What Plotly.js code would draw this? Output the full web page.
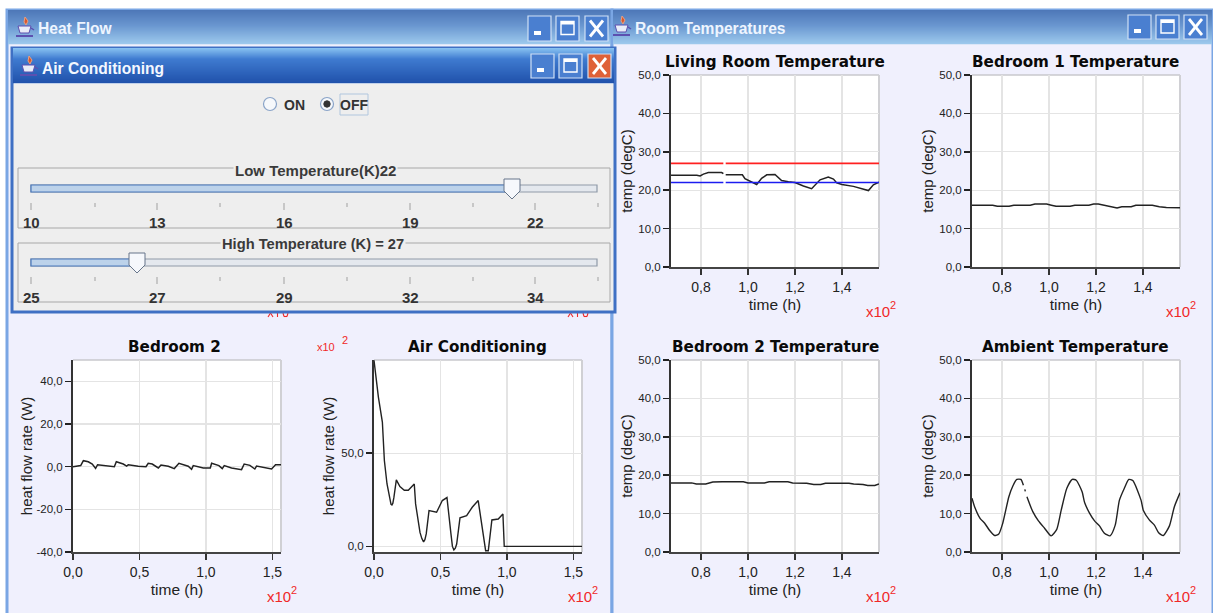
<!DOCTYPE html>
<html><head><meta charset="utf-8">
<script src="https://cdn.plot.ly/plotly-3.0.1.min.js"></script>
<style>html,body{margin:0;padding:0;background:#fff;overflow:hidden}#c{width:1213px;height:613px}</style>
</head><body><div id="c"></div>
<script>
// ---- data (x in units of 10^2 h) ----
const tempX = [0.8,1.0,1.2,1.4];
const tempXLabels = ['0,8','1,0','1,2','1,4'];
const tempY = [0,10,20,30,40,50];
const tempYLabels = ['0,0','10,0','20,0','30,0','40,0','50,0'];
const heatX = [0,0.5,1.0,1.5];
const heatXLabels = ['0,0','0,5','1,0','1,5'];
const bed2HeatY = [-40,-20,0,20,40];
const bed2HeatYLabels = ['-40,0','-20,0','0,0','20,0','40,0'];
const acHeatY = [0,50];
const acHeatYLabels = ['0,0','50,0'];

const livingX = [0.672,0.782,0.796,0.81,0.831,0.888,0.895,null,0.905,0.976,0.987,1.008,1.037,1.058,1.08,1.115,1.143,1.172,1.2,1.236,1.271,1.307,1.342,1.364,1.378,1.4,1.449,1.513,1.534,1.558];
const livingT = [23.9,23.9,23.7,24.2,24.6,24.6,24.3,null,24.0,24.0,23.0,22.4,21.5,23.1,24.0,24.1,22.5,22.2,22.0,21.1,20.4,22.7,23.4,22.9,21.9,21.5,21.0,19.9,21.4,22.1];
const setpointX = [0.672,0.895,null,0.905,1.558];
const highSet = [27,27,null,27,27];
const lowSet = [22,22,null,22,22];
const bed1X = [0.672,0.76,0.78,0.83,0.85,0.92,0.94,0.99,1.01,1.03,1.09,1.11,1.17,1.19,1.21,1.24,1.27,1.29,1.31,1.35,1.37,1.44,1.47,1.50,1.558];
const bed1T = [16.1,16.1,15.8,15.8,16.1,16.1,16.4,16.4,16.1,15.8,15.8,16.1,16.1,16.4,16.4,16.1,15.7,15.4,15.7,15.7,16.1,16.1,15.7,15.5,15.4];
const bed2X = [0.672,0.76,0.78,0.82,0.85,0.89,0.98,1.0,1.07,1.09,1.17,1.19,1.25,1.28,1.31,1.33,1.43,1.45,1.49,1.51,1.54,1.558];
const bed2T = [18.0,18.0,17.7,17.7,18.2,18.3,18.3,18.0,18.0,18.3,18.3,18.0,17.9,17.6,17.6,17.9,17.9,17.7,17.6,17.3,17.3,17.7];
const ambX = [0.672,0.683,0.707,0.726,0.747,0.768,0.786,0.803,0.829,0.846,0.863,0.88,0.891,null,0.897,0.899,null,0.906,0.931,0.955,0.981,1.009,1.033,1.052,1.076,1.099,1.116,1.141,1.152,1.172,1.194,1.215,1.236,1.26,1.282,1.3,1.321,1.34,1.357,1.392,1.402,1.428,1.449,1.467,1.487,1.513,1.534,1.558];
const ambT = [14.0,11.8,8.7,7.5,5.6,4.3,4.7,7.5,14.4,17.2,18.9,18.9,17.4,null,16.3,15.8,null,14.4,10.5,8.1,6.2,4.2,5.9,10.9,16.6,18.9,18.7,15.7,12.8,10.2,8.1,6.8,4.9,4.2,7.0,13.5,16.6,18.9,18.6,13.5,10.8,8.3,7.0,5.0,4.3,6.8,11.8,15.4];
const bed2HeatTime = [0,0.058,0.078,0.115,0.145,0.17,0.185,0.266,0.311,0.326,0.378,0.404,0.416,0.491,0.549,0.566,0.596,0.642,0.662,0.717,0.762,0.797,0.837,0.867,0.892,0.905,0.98,1.033,1.043,1.098,1.123,1.138,1.193,1.268,1.288,1.331,1.368,1.381,1.494,1.524,1.565];
const bed2Heat = [0,0.5,2.8,2.3,1.25,-0.8,0.9,0.3,0,2.3,1.25,0.3,0.9,0.2,0,1.6,1.25,-0.6,0.8,0.2,-0.9,1.6,0.9,0.2,-1.25,0.5,-0.6,-0.6,1.6,0.5,-0.9,0.5,-0.6,-1.4,1.25,0.6,-1.1,0.3,-1.1,0.9,0.9];
const acTime = [0,0.033,0.063,0.078,0.098,0.118,0.128,0.135,0.142,0.15,0.168,0.195,0.228,0.258,0.303,0.313,0.346,0.36,0.373,0.383,0.393,0.414,0.471,0.514,0.549,0.579,0.59,0.601,0.612,0.622,0.647,0.697,0.739,0.784,0.815,0.84,0.86,0.887,0.935,0.97,0.98,1.565];
const acHeat = [99.8,80.1,66.7,46.1,33.5,24.6,22.6,22.2,23.2,26.4,35.7,32.1,30.1,30.1,33.5,22.8,7.5,4.2,2.4,3.6,6.7,19.2,18.3,24.6,26.2,6.7,0,-1.9,-1,1.3,15.3,16.5,21.0,24.6,8.4,-2.3,-2.3,14.2,14.7,17.4,0,0];

const lowSliderLabels = ['10','13','16','19','22'];
const highSliderLabels = ['25','27','29','32','34'];
const sliderTickPx = [31,157,284,410,535];
const sliderMinorPx = [95,220,347,473,598];

// ---- helpers (page pixels -> paper) ----
const W = 1213, H = 613;
const px = v => v / W, py = v => 1 - v / H;
const shapes = [], annotations = [];
function rect(x0,y0,x1,y1,fill,line,lw,layer){
  shapes.push({type:'rect',xref:'paper',yref:'paper',x0:px(x0),x1:px(x1),y0:py(y0),y1:py(y1),
    fillcolor:fill||'rgba(0,0,0,0)',line:{color:line||'rgba(0,0,0,0)',width:line?(lw||1):0},layer:layer||'below'});
}
function seg(x0,y0,x1,y1,color,lw,layer){
  shapes.push({type:'line',xref:'paper',yref:'paper',x0:px(x0),x1:px(x1),y0:py(y0),y1:py(y1),line:{color:color,width:lw||1},layer:layer||'below'});
}
function circle(cx,cy,r,fill,line,lw,layer){
  shapes.push({type:'circle',xref:'paper',yref:'paper',x0:px(cx-r),x1:px(cx+r),y0:py(cy-r),y1:py(cy+r),fillcolor:fill,line:{color:line||fill,width:lw||1},layer:layer||'below'});
}
function path(points,fill,line,layer){
  const d = points.map((p,i)=>(i?'L':'M')+px(p[0])+','+py(p[1])).join(' ')+' Z';
  shapes.push({type:'path',xref:'paper',yref:'paper',path:d,fillcolor:fill,line:{color:line,width:1},layer:layer||'below'});
}
const sans='"Liberation Sans",Arial,sans-serif';
function text(t,x,y,size,color,opts,family){
  annotations.push(Object.assign({text:t,xref:'paper',yref:'paper',x:px(x),y:py(y),xanchor:'center',yanchor:'middle',showarrow:false,
    font:{family:family||sans,size:size,color:color}},opts||{}));
}
function hex(c){return [1,3,5].map(i=>parseInt(c.substr(i,2),16));}
function gradient(x0,x1,y0,y1,stops,layer){
  for(let y=y0;y<y1;y++){
    const t=(y-y0)/(y1-y0); let i=0;
    while(i<stops.length-2 && t>stops[i+1][0]) i++;
    const a=stops[i],b=stops[i+1],f=Math.min(1,(t-a[0])/(b[0]-a[0]));
    const ca=hex(a[1]),cb=hex(b[1]);
    rect(x0,y,x1,y+1.2,'rgb('+ca.map((v,k)=>Math.round(v+(cb[k]-v)*f)).join(',')+')',null,0,layer);
  }
}
function icon(x,y,layer){
  path([[x+1,y-12],[x+4,y-8],[x+2,y-4],[x,y-7]],'#d9572e','#e8a080',layer);
  path([[x-6,y-3],[x+7,y-3],[x+5,y+4],[x-4,y+4]],'#e8ecf8','#5c50b0',layer);
  seg(x-8,y+7,x+9,y+7,'#5c50b0',2,layer);
  seg(x+7,y-1,x+10,y+1,'#5c50b0',1.5,layer);
}
function buttons(bx,y0,y1,w,closeFill,layer){
  const fills=['#4a7fd0','#4a7fd0',closeFill];
  bx.forEach((x,i)=>{
    rect(x,y0,x+w,y1,fills[i],'#cfe0f6',1.2,layer);
  });
  const cy=(y0+y1)/2;
  rect(bx[0]+6,y1-10,bx[0]+13,y1-6,'#ffffff',null,0,layer);
  rect(bx[1]+5,cy-7,bx[1]+w-5,cy+6,'rgba(0,0,0,0)','#ffffff',1.4,layer);
  rect(bx[1]+5,cy-7,bx[1]+w-5,cy-4,'#ffffff',null,0,layer);
  seg(bx[2]+5,cy-8,bx[2]+w-5,cy+8,'#ffffff',2.8,layer);
  seg(bx[2]+w-5,cy-8,bx[2]+5,cy+8,'#ffffff',2.8,layer);
}

// ---- outer windows ----
const winBody='#f0f0fd', winBorder='#7aa6e4';
const titleStops=[[0,'#4e78b8'],[0.45,'#6a97d0'],[1,'#9fcbee']];
[[7,612],[612,1213]].forEach(w=>{
  rect(w[0],10,w[1],625,winBody,winBorder,3);
  gradient(w[0]+1,w[1]-1,10,44,titleStops);
});
buttons([528,556,585],16,41,23,'#4a7fd0');
buttons([1128,1156,1184],15,39,23,'#4a7fd0');
icon(24,29); icon(621,28);

// ---- plot frames ----
const plots=[
 {x:[671,879],y:[75,267]},{x:[972,1180],y:[75,267]},
 {x:[671,879],y:[360,552]},{x:[972,1180],y:[360,552]},
 {x:[73,281],y:[360,552]},{x:[374,582],y:[360,552]}];
plots.forEach(p=>{
  rect(p.x[0],p.y[0],p.x[1],p.y[1],'#ffffff');
  seg(p.x[0],p.y[0],p.x[1],p.y[0],'#c8c8cc',1.5);
  seg(p.x[1],p.y[0],p.x[1],p.y[1],'#d0d0d4',2);
});

// bottoms of the scale notes that peek out below the dialog
[268,568].forEach(x=>{
  const red='#f02828';
  seg(x,317,x+2.5,313,red,1.1); seg(x+5,317,x+2.5,313,red,1.1);
  seg(x+9.5,313,x+9.5,317,red,1.1);
  seg(x+15,313,x+16,316.5,red,1.1); seg(x+16,316.5,x+19,316.5,red,1.1); seg(x+19,316.5,x+20,313,red,1.1);
});

// ---- Air Conditioning dialog (sits over the Heat Flow window) ----
const A='above';
rect(12,48,615,312,'#eeeeee','#3f70c4',3,A);
gradient(13,614,48,83,[[0,'#86c0f0'],[0.3,'#3f7bd0'],[1,'#1f50aa']],A);
rect(14,83,613,84,'#c0d0ea',null,0,A);
buttons([531,559,588],54,78,23,'#df6138',A);
icon(28,68,A);
circle(270,104,6.5,'#f6f8fb','#8aa4c8',1.2,A);
circle(327,104,6.5,'#f6f8fb','#8aa4c8',1.2,A);
circle(327,104,3.2,'#333333','#333333',1,A);
rect(340,94,368,115,'rgba(0,0,0,0)','#b0c6de',1,A);
function slider(boxTop,boxBottom,trackTop,thumb){
  rect(18,boxTop,610,boxBottom,'rgba(0,0,0,0)','#a8a8a8',1,A);
  const trackBottom=trackTop+7;
  rect(31,trackTop,597,trackBottom,'#e4e8ee','#8f9aa8',1.2,A);
  rect(31,trackTop,thumb,trackBottom,'#bcd2ea','#4a78bc',1.2,A);
  const tt=trackTop-6;
  path([[thumb-8,tt],[thumb+8,tt],[thumb+8,tt+12],[thumb,tt+20],[thumb-8,tt+12]],'#f6f8fc','#66758a',A);
  const tickTop=trackTop+18;
  sliderTickPx.forEach(x=>seg(x,tickTop,x,tickTop+7,'#a0a0a0',1,A));
  sliderMinorPx.forEach(x=>seg(x,tickTop,x,tickTop+4,'#a0a0a0',1,A));
}
slider(168,228,185,512);
slider(243,302,259,137);
text('<b>ON</b>',294,105,14,'#333333');
text('<b>OFF</b>',354,105,14,'#333333');
text('<b>Low Temperature(K)22</b>',315,170,15,'#3a3a3a',{bgcolor:'#eeeeee',borderpad:1});
text('<b>High Temperature (K) = 27</b>',313,244,14.7,'#3a3a3a',{bgcolor:'#eeeeee',borderpad:1});
lowSliderLabels.forEach((t,i)=>text('<b>'+t+'</b>',sliderTickPx[i],222,15,'#333333'));
highSliderLabels.forEach((t,i)=>text('<b>'+t+'</b>',sliderTickPx[i],297,15,'#333333'));

// ---- window titles ----
text('<b>Heat Flow</b>',36,29,15.6,'#eef5ff',{xanchor:'left'});
text('<b>Room Temperatures</b>',633,28,15.6,'#eef5ff',{xanchor:'left'});
text('<b>Air Conditioning</b>',40,68,15.6,'#f4f8ff',{xanchor:'left'});

// ---- chart titles and scale notes ----
const dejavu='"DejaVu Sans",sans-serif';
[['Living Room Temperature',775,62],['Bedroom 1 Temperature',1075,62],['Bedroom 2 Temperature',775,347],
 ['Ambient Temperature',1075,347],['Bedroom 2',174,347],['Air Conditioning',477,347]]
 .forEach(t=>text('<b>'+t[0]+'</b>',t[1],t[2],15.2,'#0a0a0a',null,dejavu));
[[881,310],[1181,310],[881,595],[1181,595],[282,595],[583,595]]
 .forEach(p=>{ text('x10',p[0]-3.5,p[1]+1,15,'#f02828'); text('2',p[0]+12,p[1]-5,11,'#f02828'); });
text('x10',326,347,11,'#f02828');
text('2',345,340,11,'#f02828');

// ---- axes ----
function xAxis(n,p,range,vals,labels){
  return {anchor:'y'+n,domain:[px(p.x[0]),px(p.x[1])],range:range,tickmode:'array',tickvals:vals,ticktext:labels,
    ticks:'outside',ticklen:6,tickwidth:1.5,tickcolor:'#333',showline:true,linecolor:'#444',linewidth:2,
    showgrid:true,gridcolor:'#e4e4e4',gridwidth:1.2,zeroline:false,tickfont:{family:sans,size:14,color:'#222'},
    title:{text:'time (h)',font:{family:sans,size:15.5,color:'#222'},standoff:5},fixedrange:true};
}
function yAxis(n,p,range,vals,labels,ttl,standoff){
  return {anchor:'x'+n,domain:[py(p.y[1]),py(p.y[0])],range:range,tickmode:'array',tickvals:vals,ticktext:labels,
    ticks:'outside',ticklen:6,tickwidth:1.5,tickcolor:'#222',showline:true,linecolor:'#333',linewidth:2,
    showgrid:true,gridcolor:'#e4e4e4',gridwidth:1.2,zeroline:false,tickfont:{family:sans,size:11.5,color:'#222'},
    title:{text:ttl,font:{family:sans,size:15,color:'#222'},standoff:standoff},fixedrange:true};
}
const tR=[0.672,1.558], hR=[0,1.565];
const layout={width:W,height:H,margin:{l:0,r:0,t:0,b:0},paper_bgcolor:'#ffffff',plot_bgcolor:'rgba(0,0,0,0)',showlegend:false,
  hovermode:false,shapes:shapes,annotations:annotations};
const axCfg=[
 [tR,tempX,tempXLabels,[0,50],tempY,tempYLabels,'temp (degC)',2],
 [tR,tempX,tempXLabels,[0,50],tempY,tempYLabels,'temp (degC)',2],
 [tR,tempX,tempXLabels,[0,50],tempY,tempYLabels,'temp (degC)',2],
 [tR,tempX,tempXLabels,[0,50],tempY,tempYLabels,'temp (degC)',2],
 [hR,heatX,heatXLabels,[-40,50],bed2HeatY,bed2HeatYLabels,'heat flow rate (W)',0],
 [hR,heatX,heatXLabels,[-3,100],acHeatY,acHeatYLabels,'heat flow rate (W)',3]];
axCfg.forEach((c,i)=>{
  const n=i+1;
  layout['xaxis'+n]=xAxis(n,plots[i],c[0],c[1],c[2]);
  layout['yaxis'+n]=yAxis(n,plots[i],c[3],c[4],c[5],c[6],c[7]);
});

const black={color:'#222222',width:1.5};
const tr=(x,y,n,line)=>({x:x,y:y,xaxis:'x'+n,yaxis:'y'+n,type:'scatter',mode:'lines',line:line||black,connectgaps:false,cliponaxis:false});
const traces=[
 tr(livingX,livingT,1),
 tr(setpointX,highSet,1,{color:'#ff2020',width:1.8}),
 tr(setpointX,lowSet,1,{color:'#1c1cf0',width:1.6}),
 tr(bed1X,bed1T,2),
 tr(bed2X,bed2T,3),
 tr(ambX,ambT,4,{color:'#222222',width:1.4,shape:'spline',smoothing:0.6}),
 tr(bed2HeatTime,bed2Heat,5),
 tr(acTime,acHeat,6,{color:'#222222',width:1.4})
];
Plotly.newPlot('c',traces,layout,{displayModeBar:false,staticPlot:true});
</script></body></html>
